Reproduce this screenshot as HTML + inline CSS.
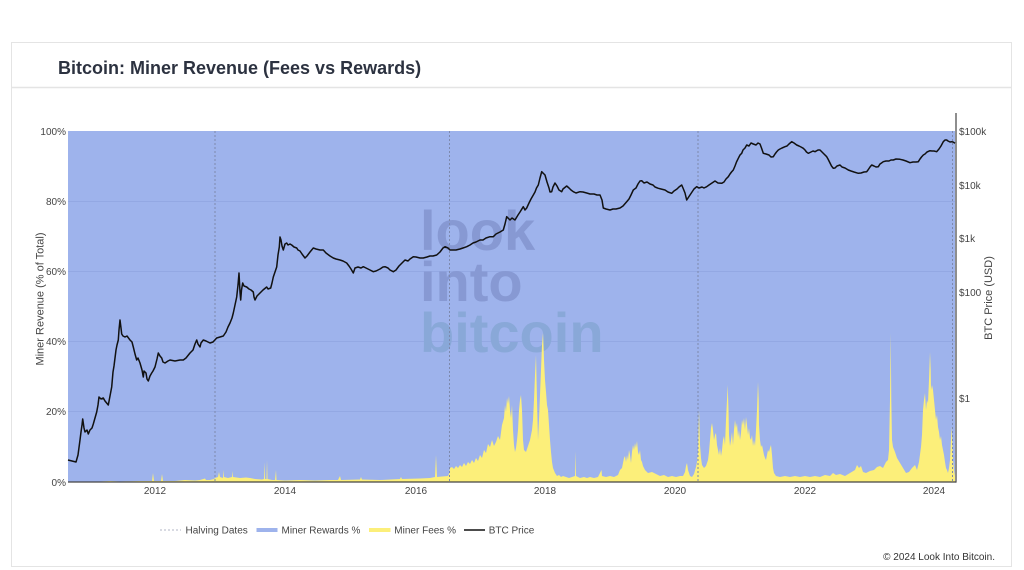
<!DOCTYPE html>
<html>
<head>
<meta charset="utf-8">
<style>
  html,body{margin:0;padding:0;background:#fff;}
  body{width:1024px;height:570px;overflow:hidden;font-family:"Liberation Sans",Arial,sans-serif;}
  svg{display:block;}
  .tick{font-family:"Liberation Sans",Arial,sans-serif;font-size:10px;fill:#444;}
  .leg{font-family:"Liberation Sans",Arial,sans-serif;font-size:10px;fill:#444;}
</style>
</head>
<body>
<svg width="1024" height="570" viewBox="0 0 1024 570" xmlns="http://www.w3.org/2000/svg">
  <!-- card -->
  <rect x="11.5" y="42.5" width="1000" height="524" fill="#fff" stroke="#e4e4e4" stroke-width="1"/>
  <line x1="11" y1="87.5" x2="1012" y2="87.5" stroke="#e4e4e4" stroke-width="1.5"/>
  <text x="58" y="74" font-family="Liberation Sans, Arial, sans-serif" font-weight="bold" font-size="18" fill="#2c3240">Bitcoin: Miner Revenue (Fees vs Rewards)</text>

  <!-- plot background (rewards) -->
  <rect x="68" y="131" width="887" height="351" fill="#9eb3ec"/>

  <!-- gridlines -->
  <g stroke="#93a8e3" stroke-width="1">
    <line x1="68" y1="201.5" x2="955" y2="201.5"/>
    <line x1="68" y1="271.5" x2="955" y2="271.5"/>
    <line x1="68" y1="341.5" x2="955" y2="341.5"/>
    <line x1="68" y1="411.5" x2="955" y2="411.5"/>
  </g>

  <!-- watermark -->
  <g font-family="Liberation Sans, Arial, sans-serif" font-weight="bold" font-size="56">
    <text x="420" y="250" fill="#8799d3">look</text>
    <text x="420" y="301" fill="#8799d3">into</text>
    <text x="420" y="352" fill="#89a8d8">bitcoin</text>
  </g>

  <!-- fees -->
  <polygon fill="#fcef7a" points="
68,482 68,481.5 100,481.5 110,481 120,481.5 140,481 152,481 153,473 154,481 161,481 162,474 163,481 175,481 185,480 195,480.5 200,480 205,478.5 206,480 210,480 214,479
215,478 218,477 219,472 220,477 223,478 223.5,470 224,477 228,478 232,477 232.5,471 233,477 240,478 246,477.5 250,478 255,479 262,479.5 264,479 264.5,462 265,479 266.5,479 267,460 267.5,479 272,480 275,480 276,470 276.5,480
285,480.5 300,480 315,480.5 330,480 338,480 340,476 341,480 360,479.5 361,477 362,479.5 380,480 400,479 401,477 402,479 420,478.5 430,478 435,477 436,455 437,477 442,476.5 448,476 449,474
450,468 452,467 454,469 456,466 458,468 460,465 462,467 464,463 466,466 468,462 470,464 472,460 474,463 476,458 478,461 480,455 482,458 484,450 486,453 488,444 490,447 492,440 494,446 496,442 498,436 500,440 502,425 504,418 505,405 506,412 507,398 508,404 509,396 510,410 511,418 512,405 513,430 514,445 515,452 516,448 517,440 518,430 519,410 520,400 521,395 522,410 523,440 524,450 526,452 528,446 530,440 532,430 533,420 534,400 535,375 536,355 537,400 538,440 539,420 540,395 541,370 542,345 543,333 543.5,345 544,360 545,380 546,392 547,405 548,410 549,425 550,440 551,452 552,462 553,468 555,473 557,476 559,475 561,477 563,476 566,477 569,478 572,477 575,476 575.5,451 576,476 580,478 584,477 587,478 590,477 594,478 598,477 600,473 601.5,470 602,476 606,477 610,476 614,477 618,475 620,470 622,468 624,458 625,456 626,462 627,455 628,460 629,450 630,455 631,463 632,452 633,445 634,450 635,443 636,448 637,441 638,452 639,455 640,450 641,460 642,462 643,466 645,470 648,473 652,472 656,474 660,476 664,475 668,477 672,476 676,477 680,476 683,476 685,472 686,466 687,463 688,470 690,476 692,477 694,474 696,467 697,462 698,452 699,410 700,445 701,458 702,465 704,468 706,466 708,460 709,452 710,440 711,428 712,423 713,430 714,440 715,435 716,433 717,445 718,450 719,455 720,448 721,456 722,450 723,440 724,436 725,445 726,420 727,400 727.7,385 728.5,410 729,435 730,446 731,440 732,432 733,445 734,430 735,420 736,428 737,423 738,437 739,430 740,440 741,433 742,420 743,425 744,418 745,430 746,417 747,425 748,435 749,428 750,438 751,440 752,435 753,446 754,440 755,446 756,430 757,410 758,382 758.7,400 759,425 760,440 761,447 762,445 763,450 764,455 765,458 766,460 767,455 768,450 769,452 770,448 771,445 772,455 773,468 774,473 776,476 780,477 785,476 790,477 795,476 800,477 805,476 810,477 815,476 820,477 825,475 830,476 833,473 836,475 840,474 845,476 850,473 855,470 857,465 859,468 861,466 863,472 866,473 870,471 874,470 877,467 880,466 883,468 886,462 888,460 889,450 890,400 890.7,333 891.3,400 892,440 893,447 895,452 897,458 900,463 903,468 906,473 909,472 912,468 914,466 915,465 917,470 919,462 921,447 922,435 923,410 924,400 925,393 926,410 927,400 928,403 929,380 930,352 930.7,370 931,390 932,385 933,390 934,400 935,410 936,420 937,415 938,427 939,432 940,440 941,436 942,445 943,450 944,455 945,462 946,468 947,470 948,473 949,468 950,460 951,440 951.7,427 952.5,445 953,460 954,470 955,476 955,482"/>

  <!-- halving lines -->
  <g stroke="#7d89ad" stroke-width="1" stroke-dasharray="2,2">
    <line x1="215" y1="131" x2="215" y2="482"/>
    <line x1="449.5" y1="131" x2="449.5" y2="482"/>
    <line x1="698" y1="131" x2="698" y2="482"/>
    <line x1="952.5" y1="131" x2="952.5" y2="482"/>
  </g>

  <!-- BTC price -->
  <polyline fill="none" stroke="#111" stroke-width="1.5" stroke-linejoin="round" points="
68,460 72,461 76,462 78,455 80,440 81,432 82,425 82.7,419 84,428 85,432 87,430 88.3,434 90,430 92,428 93.3,424 95,418 96.7,412 98,405 99,397 101,399 103.3,398 105,401 108.3,405 110,396 111.7,387 113,372 114,366 116,350 117,345 118.3,340 119,330 120,320 121,328 121.7,334 123,336 125,337 127,336 130,340 132,342 133.3,347 135,354 136.7,360 138,358 140,363 142,370 143.3,377 144,371 146,373 147,379 148.3,381 150,376 151.7,373 153,371 155,367 157,359 158.3,353 160,356 161.7,358 163,362 165,363 168,361 170,360 175,361 180,360 183.3,360 186,358 190,353 193,350 195,344 196.7,340 198,344 200,347 201,343 203.3,340 206,341 210,343 213,342 216.7,338 220,337 223.3,336 226,332 228,327 230,323 232,318 233.3,313 235,305 236.7,297 238,285 239,273 240,292 240.7,300 241.5,290 242.7,283 244,286 246.7,287 249,289 251,290 253.3,292 254,297 255,300 257,296 260,293 263,290 266.7,287 268,289 270.7,288 272,283 273.3,277 275,272 276.7,267 278,255 279.3,247 280,237 281,240 282,246 283.3,250 285,244 286.7,243 288,245 290,244 291.7,245 294,247 296.7,248 298,250 300,251 302,254 305,258 307,256 310,252 313.3,248 316,249 320,250 323.3,250 326,253 330,256 333.3,258 336,259 340,260 343,261 346.7,263 349,266 351,269 353.3,273 355,268 358,267 361,268 363.3,266.7 366,268 370,270 373.3,271.7 376,271 380,269 383,267 385,266.7 388,268 390,270 393.3,271.7 396,270 399,266 402,263 405,260 408,261 410,259 413.3,256.7 416,257 420,258 423.3,258 427,257 430,256 433,256 436.7,255 440,252 443,248 445,246.7 448,248 450,250 453.3,250 456,250 460,249 463,248 466.7,246.7 470,245 473,243 476,242 480,240 483,240 486,238 490,236.7 493.3,236.7 496,234 500,232 503.3,230 505,224 506.7,216.7 508,218 510,220 512,218 515,220 518,215 520,212 523.3,206.7 525,210 526.7,208 529,203 531,199 533.3,195 535,192 536.5,188 538.3,185 540,178 541.7,171.7 543,173 545,175 547,182 549,188 550,192 551.7,191.7 553,187 555,183 557,186 559,190 561.7,191.7 563,189 566.7,186 569,188 571,190 573.3,191.7 576,193 580,191.7 583,192 586.7,193 590,194 594,194 597,195 600,195 602,200 603.3,208 606,209 610,210 613,209 616,209 620,208 623,206 626.7,201.7 629,199 631,195 633.3,190 636,188 638,184 640,181 641.7,180.7 644,183 647,182 650,184 653,185 655,187 658.3,188.3 661,189 665,190 668,192 671.7,193.3 674,191 677,189 679,187 681.7,185 683,188 685,193 686.7,200 688,198 690,195 692,192 694,189 696.7,186.7 699,188 702,187 704,188 706.7,186.7 709,185 712,183 715,181 718,183 721.7,183.3 724,182 726,179 728.3,176.7 730,174 731.5,172 733.3,170 735,166 736.5,162 738.3,158.3 740,155 741.7,153.3 743,150 745,148 746.7,145 749,146 751,143 753.3,144 756,145 758,143 760,144 761.5,148 763.3,153.3 766,154 769,155 771,157 773.3,156.7 775,154 776.5,152 778.3,150 780,149 782,148 785,146.7 787,146 789,144 791.7,141.7 794,143 796.7,145 799,146 801,147 803.3,148.3 805,150 806.5,152 808.3,153.3 811,152 813,151 815,151.7 818,150 820,150 822,152 824,154 826.7,156.7 828,159 830,163 831.5,166 833.3,168.3 835,168 837,166 840,165 842,167 845,168 848.3,170 851,171 854,172 858.3,173.3 861,173 864,172 866.7,171.7 868,170 870,167 871.7,165 874,166 876,167 878.3,166.7 880,164 881.5,163 883.3,161.7 886,161 889,161 891,160 893.3,160 896,159 900,159.3 903,160 906,161 910,162.7 913,162 916,162 918.3,161.7 920,159 921.5,157 923.3,155 925,154 927,152 930,150.7 932,151 934,151 936.7,151.7 939,149 941,146 943.3,141.7 945,140 946.7,140 948,141 950,142 951.7,141.7 953,142 955,143.3"/>

  <!-- axes lines -->
  <line x1="68" y1="482" x2="956" y2="482" stroke="#444" stroke-width="1.2"/>
  <line x1="956" y1="113" x2="956" y2="482.6" stroke="#444" stroke-width="1.2"/>

  <!-- left ticks -->
  <g class="tick" text-anchor="end">
    <text x="66" y="135">100%</text>
    <text x="66" y="205">80%</text>
    <text x="66" y="275">60%</text>
    <text x="66" y="345">40%</text>
    <text x="66" y="415">20%</text>
    <text x="66" y="486">0%</text>
  </g>
  <!-- right ticks -->
  <g class="tick" text-anchor="start">
    <text x="959" y="135">$100k</text>
    <text x="959" y="189">$10k</text>
    <text x="959" y="242">$1k</text>
    <text x="959" y="296">$100</text>
    <text x="959" y="402">$1</text>
  </g>
  <!-- x ticks -->
  <g class="tick" text-anchor="middle">
    <text x="155" y="494">2012</text>
    <text x="285" y="494">2014</text>
    <text x="416" y="494">2016</text>
    <text x="545" y="494">2018</text>
    <text x="675" y="494">2020</text>
    <text x="805" y="494">2022</text>
    <text x="934" y="494">2024</text>
  </g>

  <!-- axis titles -->
  <text transform="translate(43.5,299) rotate(-90)" text-anchor="middle" font-family="Liberation Sans, Arial, sans-serif" font-size="11" fill="#444">Miner Revenue (% of Total)</text>
  <text transform="translate(992,298) rotate(-90)" text-anchor="middle" font-family="Liberation Sans, Arial, sans-serif" font-size="11" fill="#444">BTC Price (USD)</text>

  <!-- legend -->
  <line x1="160" y1="530" x2="181" y2="530" stroke="#b0b6c6" stroke-width="1" stroke-dasharray="2,2"/>
  <text class="leg" x="185.5" y="533.5">Halving Dates</text>
  <rect x="256.5" y="528" width="21" height="4" fill="#9eb3ec"/>
  <text class="leg" x="281.5" y="533.5">Miner Rewards %</text>
  <rect x="369" y="528" width="21.5" height="4" fill="#fcef7a"/>
  <text class="leg" x="394.3" y="533.5">Miner Fees %</text>
  <line x1="464" y1="530" x2="485" y2="530" stroke="#111" stroke-width="1.5"/>
  <text class="leg" x="488.7" y="533.5">BTC Price</text>

  <!-- copyright -->
  <text x="995" y="560" text-anchor="end" font-family="Liberation Sans, Arial, sans-serif" font-size="10" fill="#333">© 2024 Look Into Bitcoin.</text>
</svg>
</body>
</html>
